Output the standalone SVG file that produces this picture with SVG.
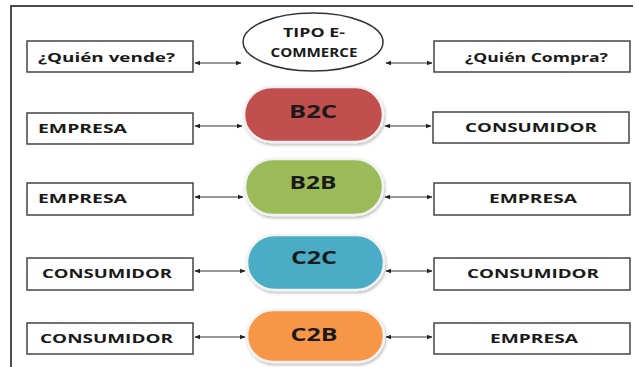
<svg xmlns="http://www.w3.org/2000/svg" width="635" height="367" viewBox="0 0 635 367">
<style>
.box{fill:#fff;stroke:#444;stroke-width:1.5}
.lbl{font-family:"Open Sans","Liberation Sans",sans-serif;font-weight:bold;font-size:13px;fill:#1a1a1a}
.pill{stroke:#f2f2f2;stroke-width:2.5}
.pl{font-family:"Open Sans","Liberation Sans",sans-serif;font-weight:bold;font-size:17px;fill:#1a1a1a;text-anchor:middle}
.con{stroke:#333;stroke-width:1;fill:none;marker-start:url(#ah);marker-end:url(#ah)}
.frame{stroke:#111;stroke-width:1.5;fill:none}
</style>
<defs>
<marker id="ah" viewBox="0 0 10 10" refX="9" refY="5" markerWidth="6" markerHeight="6" orient="auto-start-reverse" markerUnits="userSpaceOnUse">
<path d="M0,1 L10,5 L0,9 Z" fill="#222"/>
</marker>
<filter id="sh" x="-10%" y="-20%" width="120%" height="140%">
<feDropShadow dx="1" dy="2" stdDeviation="1.5" flood-color="#000" flood-opacity="0.25"/>
</filter>
</defs>
<rect width="635" height="367" fill="#fff"/>
<path class="frame" d="M11,367 L11,6 L633,6"/>

<g id="connectors">
<line class="con" x1="195" y1="63" x2="241" y2="63"/>
<line class="con" x1="386" y1="63" x2="432" y2="63"/>
<line class="con" x1="195" y1="126" x2="242" y2="126"/>
<line class="con" x1="385" y1="126" x2="431" y2="126"/>
<line class="con" x1="195" y1="197" x2="243" y2="197"/>
<line class="con" x1="385" y1="197" x2="432" y2="197"/>
<line class="con" x1="195" y1="271" x2="245" y2="271"/>
<line class="con" x1="386" y1="271" x2="432" y2="271"/>
<line class="con" x1="195" y1="337" x2="245" y2="337"/>
<line class="con" x1="386" y1="337" x2="432" y2="337"/>
</g>

<g id="quien-vende">
<rect class="box" x="27" y="41" width="166" height="31"/>
<text class="lbl" x="38" y="62" textLength="137" lengthAdjust="spacingAndGlyphs">¿Quién vende?</text>
</g>
<g id="tipo">
<ellipse cx="313" cy="42" rx="70" ry="29" fill="#fff" stroke="#333" stroke-width="1.5"/>
<text class="lbl" x="314" y="37" font-size="12" text-anchor="middle" textLength="62" lengthAdjust="spacingAndGlyphs">TIPO E-</text>
<text class="lbl" x="314" y="57" font-size="12" text-anchor="middle" textLength="87" lengthAdjust="spacingAndGlyphs">COMMERCE</text>
</g>
<g id="quien-compra">
<rect class="box" x="434" y="41" width="196" height="31"/>
<text class="lbl" x="465" y="62" textLength="143" lengthAdjust="spacingAndGlyphs">¿Quién Compra?</text>
</g>

<g id="b2c-left">
<rect class="box" x="27" y="113" width="166" height="31"/>
<text class="lbl" x="38" y="133" textLength="89" lengthAdjust="spacingAndGlyphs">EMPRESA</text>
</g>
<g id="b2c">
<rect class="pill" x="244" y="87" width="139" height="55" rx="27.5" fill="#C0504D" filter="url(#sh)"/>
<text class="pl" x="313" y="118" textLength="48" lengthAdjust="spacingAndGlyphs">B2C</text>
</g>
<g id="b2c-right">
<rect class="box" x="433" y="112" width="196" height="31"/>
<text class="lbl" x="465" y="132" textLength="132" lengthAdjust="spacingAndGlyphs">CONSUMIDOR</text>
</g>

<g id="b2b-left">
<rect class="box" x="27" y="183" width="166" height="32"/>
<text class="lbl" x="38" y="203" textLength="89" lengthAdjust="spacingAndGlyphs">EMPRESA</text>
</g>
<g id="b2b">
<rect class="pill" x="245" y="159" width="138" height="56" rx="28" fill="#9BBB59" filter="url(#sh)"/>
<text class="pl" x="313" y="189" textLength="47" lengthAdjust="spacingAndGlyphs">B2B</text>
</g>
<g id="b2b-right">
<rect class="box" x="434" y="183" width="196" height="32"/>
<text class="lbl" x="489" y="203" textLength="88" lengthAdjust="spacingAndGlyphs">EMPRESA</text>
</g>

<g id="c2c-left">
<rect class="box" x="27" y="258" width="166" height="32"/>
<text class="lbl" x="42" y="278" textLength="130" lengthAdjust="spacingAndGlyphs">CONSUMIDOR</text>
</g>
<g id="c2c">
<rect class="pill" x="247" y="235" width="137" height="55" rx="27.5" fill="#4BACC6" filter="url(#sh)"/>
<text class="pl" x="314" y="264" textLength="46" lengthAdjust="spacingAndGlyphs">C2C</text>
</g>
<g id="c2c-right">
<rect class="box" x="434" y="258" width="196" height="32"/>
<text class="lbl" x="467" y="278" textLength="132" lengthAdjust="spacingAndGlyphs">CONSUMIDOR</text>
</g>

<g id="c2b-left">
<rect class="box" x="27" y="323" width="166" height="31"/>
<text class="lbl" x="40" y="343" textLength="133" lengthAdjust="spacingAndGlyphs">CONSUMIDOR</text>
</g>
<g id="c2b">
<rect class="pill" x="247" y="310" width="137" height="52" rx="26" fill="#F79646" filter="url(#sh)"/>
<text class="pl" x="314" y="341" textLength="47" lengthAdjust="spacingAndGlyphs">C2B</text>
</g>
<g id="c2b-right">
<rect class="box" x="434" y="323" width="196" height="31"/>
<text class="lbl" x="490" y="343" textLength="88" lengthAdjust="spacingAndGlyphs">EMPRESA</text>
</g>
</svg>
